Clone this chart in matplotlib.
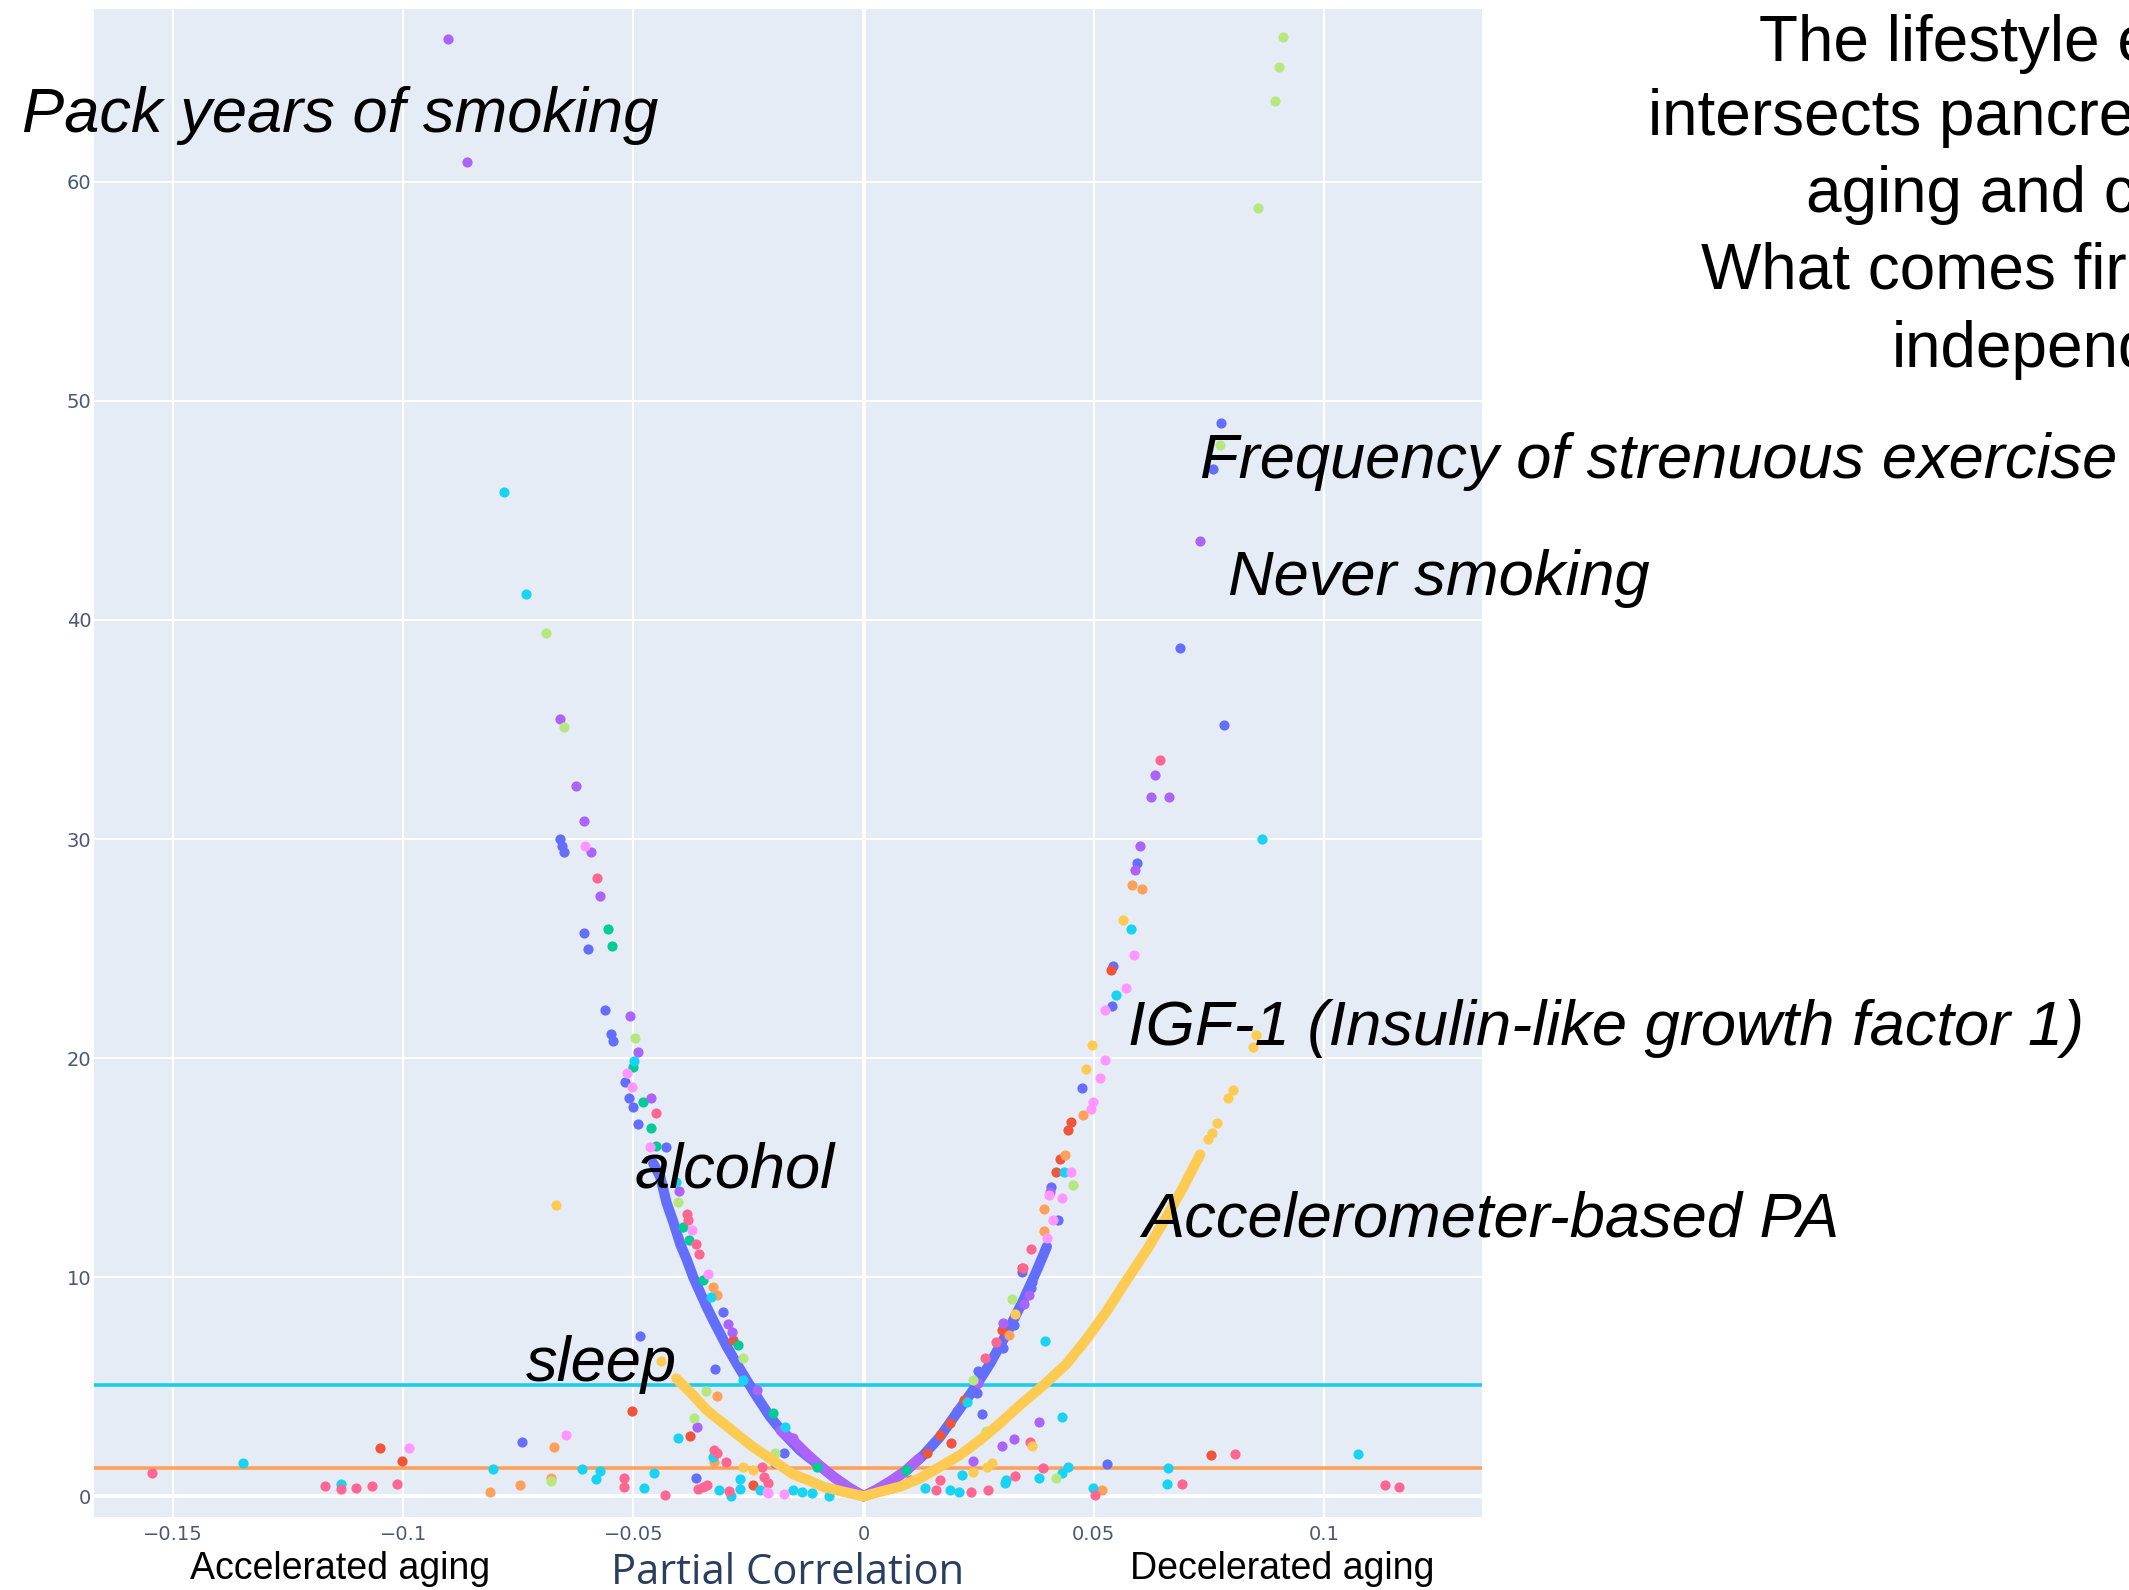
import matplotlib
matplotlib.use("Agg")
import matplotlib.pyplot as plt

# Partial correlation with aging (x) against -log10(p) (y)

# dense ridge of the main exposure set (drawn as a continuous band)
main_ridge_r = [-0.0457, -0.0442, -0.0428, -0.0413, -0.0398, -0.0384, -0.0370, -0.0355,
                -0.0341, -0.0327, -0.0312, -0.0297, -0.0276, -0.0254, -0.0232, -0.0203,
                -0.0174, -0.0138, -0.0102, -0.0066, -0.0030, 0.0,
                0.0028, 0.0065, 0.0094, 0.0130, 0.0166, 0.0202, 0.0238, 0.0275,
                0.0311, 0.0347, 0.0376, 0.0398]
main_ridge_y = [15.2, 14.6, 13.4, 12.5, 11.5, 10.8, 10.0, 9.3,
                8.65, 8.05, 7.44, 6.83, 6.07, 5.3, 4.55, 3.63,
                2.88, 2.1, 1.5, 0.9, 0.37, 0.0,
                0.29, 0.74, 1.2, 1.88, 2.72, 3.79, 4.85, 6.07,
                7.44, 8.96, 10.3, 11.4]

# inner ridge close to zero correlation
inner_ridge_r = [-0.0180, -0.0153, -0.0124, -0.0095, -0.0066, -0.0035, 0.0,
                 0.0030, 0.0060, 0.0090, 0.0119]
inner_ridge_y = [3.0, 2.55, 1.95, 1.4, 0.9, 0.43, 0.0,
                 0.33, 0.72, 1.15, 1.7]

# accelerometer / sleep ridge
pa_ridge_r = [-0.0407, -0.0374, -0.0341, -0.0291, -0.0240, -0.0208, -0.0153, -0.0125,
              -0.0088, -0.0042, 0.0,
              0.0036, 0.0079, 0.0122, 0.0166, 0.0209, 0.0253, 0.0296, 0.0340,
              0.0387, 0.0441, 0.0485, 0.0528, 0.0571, 0.0615, 0.0658, 0.0694, 0.0731]
pa_ridge_y = [5.38, 4.7, 3.94, 3.1, 2.25, 1.8, 1.0, 0.78,
              0.44, 0.2, 0.0,
              0.21, 0.44, 0.82, 1.35, 1.88, 2.57, 3.33, 4.17,
              5.0, 6.05, 7.2, 8.45, 9.85, 11.24, 12.76, 14.1, 15.6]

# individual exposures, grouped by colour
blue_r = [0.0776, 0.0758, 0.0688, 0.0783, -0.0659, -0.0655, -0.0651, -0.0607, -0.0599,
          -0.0562, -0.0549, -0.0544, -0.0518, -0.0509, -0.0500, -0.0491, -0.0430,
          0.0593, 0.0541, 0.0540, 0.0474, 0.0407, 0.0423, 0.0344, 0.0366, 0.0364,
          0.0327, 0.0302, 0.0249, 0.0246, 0.0202, 0.0258, 0.0529, -0.0485, -0.0323,
          -0.0363, -0.0742, -0.0193, -0.0172, -0.0306]
blue_y = [49.0, 46.9, 38.7, 35.2, 30.0, 29.7, 29.4, 25.7, 25.0,
          22.2, 21.1, 20.8, 18.9, 18.2, 17.75, 17.0, 15.95,
          28.9, 24.2, 22.4, 18.65, 14.1, 12.6, 10.25, 9.8, 9.5,
          7.8, 6.75, 5.7, 4.7, 3.9, 3.75, 1.46, 7.32, 5.8,
          0.85, 2.49, 1.5, 1.99, 8.43]

purple_r = [-0.0902, -0.0862, -0.0659, -0.0624, -0.0608, -0.0593, -0.0572, -0.0508,
            -0.0489, -0.0461, -0.0400, -0.0294, -0.0286, -0.0232, -0.0153, -0.0362,
            0.0731, 0.0633, 0.0624, 0.0663, 0.0601, 0.0590, 0.0405, 0.0359, 0.0349,
            0.0302, 0.0248, 0.0381, 0.0327, 0.0301, 0.0238]
purple_y = [66.5, 60.9, 35.5, 32.4, 30.8, 29.4, 27.4, 21.9,
            20.3, 18.2, 13.92, 7.85, 7.51, 4.85, 2.65, 3.18,
            43.6, 32.9, 31.9, 31.9, 29.7, 28.6, 13.9, 9.2, 8.8,
            7.9, 5.15, 3.4, 2.6, 2.3, 1.6]

lightgreen_r = [0.0912, 0.0903, 0.0893, 0.0857, 0.0774, -0.0690, -0.0651, -0.0497,
                -0.0404, -0.0261, -0.0192, -0.0368, -0.0343, -0.0678, 0.0454, 0.0322,
                0.0238, 0.0266, 0.0418]
lightgreen_y = [66.6, 65.25, 63.7, 58.8, 48.0, 39.4, 35.1, 20.9,
                13.43, 6.3, 1.96, 3.59, 4.8, 0.72, 14.2, 9.0,
                5.3, 3.0, 0.82]

green_r = [-0.0556, -0.0547, -0.0500, -0.0479, -0.0462, -0.0450, -0.0392, -0.0379,
           -0.0349, -0.0272, -0.0196, -0.0102, 0.0091]
green_y = [25.9, 25.1, 19.6, 18.0, 16.8, 16.0, 12.3, 11.7,
           9.87, 6.9, 3.79, 1.35, 1.2]

cyan_r = [-0.0780, -0.0733, 0.0865, -0.0499, -0.0407, -0.0332, -0.0261, -0.0171,
          0.0580, 0.0548, 0.0435, 0.0393, 0.0224, 0.0430, -0.1347, -0.1135,
          -0.0806, -0.0611, -0.0573, -0.0581, -0.0477, -0.0456, -0.0404, -0.0328,
          -0.0314, -0.0289, -0.0268, -0.0268, -0.0225, -0.0154, -0.0133, -0.0112,
          -0.0075, 0.0133, 0.0187, 0.0208, 0.0213, 0.0310, 0.0308, 0.0382,
          0.0430, 0.0443, 0.0662, 0.0659, 0.0499, 0.1073]
cyan_y = [45.85, 41.2, 30.0, 19.85, 14.36, 9.1, 5.3, 3.18,
          25.9, 22.9, 14.8, 7.1, 4.3, 3.6, 1.53, 0.55,
          1.26, 1.26, 1.15, 0.78, 0.36, 1.08, 2.66, 1.81,
          0.29, 0.0, 0.33, 0.78, 0.29, 0.29, 0.18, 0.14,
          0.0, 0.36, 0.29, 0.21, 0.97, 0.75, 0.6, 0.82,
          1.05, 1.35, 1.3, 0.56, 0.36, 1.93]

pink_r = [-0.0580, -0.0452, -0.0384, -0.0381, -0.0364, -0.0357, 0.0643, 0.0363,
          -0.1545, -0.1169, -0.1135, -0.1102, -0.1067, -0.1013, -0.0520, -0.0520,
          -0.0431, -0.0359, -0.0349, -0.0340, -0.0324, -0.0318, -0.0299, -0.0293,
          -0.0220, -0.0216, -0.0208, 0.0100, 0.0158, 0.0166, 0.0233, 0.0270,
          0.0361, 0.0389, 0.0329, 0.0692, 0.0502, 0.0807, 0.1133, 0.1163,
          0.0288, 0.0264, 0.0346]
pink_y = [28.2, 17.5, 12.9, 12.6, 11.5, 11.05, 33.6, 11.3,
          1.08, 0.48, 0.33, 0.36, 0.47, 0.58, 0.85, 0.42,
          0.06, 0.32, 0.44, 0.52, 2.11, 1.96, 1.58, 0.26,
          1.35, 0.9, 0.59, 0.74, 0.29, 0.74, 0.21, 0.29,
          2.5, 1.28, 0.93, 0.56, 0.06, 1.93, 0.52, 0.41,
          7.06, 6.3, 10.4]

red_r = [-0.1051, -0.1003, -0.0504, -0.0378, -0.0241, -0.0283, 0.0537, 0.0450,
         0.0445, 0.0427, 0.0417, 0.0345, 0.0301, 0.0167, 0.0189, 0.0137,
         0.0754, 0.0217, 0.0188]
red_y = [2.22, 1.6, 3.89, 2.75, 0.52, 7.13, 24.0, 17.1,
         16.7, 15.4, 14.8, 10.4, 7.6, 2.8, 2.45, 2.0,
         1.9, 4.4, 3.33]

orange_r = [0.0582, 0.0605, 0.0476, 0.0437, 0.0392, 0.0392, 0.0316, -0.0328,
            -0.0319, -0.0318, -0.0324, -0.0812, -0.0747, -0.0672, -0.0678, 0.0518]
orange_y = [27.9, 27.7, 17.4, 15.6, 13.1, 12.1, 7.36, 9.57,
            9.19, 4.58, 1.58, 0.18, 0.5, 2.25, 0.85, 0.29]

lightpink_r = [-0.0605, -0.0513, -0.0504, -0.0464, -0.0372, -0.0337, -0.0987, -0.0646,
               -0.0210, -0.0173, -0.0207, 0.0587, 0.0569, 0.0524, 0.0525, 0.0513,
               0.0499, 0.0494, 0.0451, 0.0430, 0.0412, 0.0399, 0.0403]
lightpink_y = [29.7, 19.3, 18.7, 15.95, 12.15, 10.15, 2.22, 2.78,
               0.18, 0.09, 0.14, 24.7, 23.2, 22.2, 19.9, 19.1,
               18.0, 17.7, 14.8, 13.6, 12.6, 11.8, 13.75]

yellow_r = [-0.0669, -0.0441, 0.0564, 0.0497, 0.0484, 0.0329, 0.0366, -0.0262,
            -0.0241, 0.0237, 0.0267, 0.0278, 0.0749, 0.0756, 0.0767, 0.0792,
            0.0803, 0.0846, 0.0853]
yellow_y = [13.3, 6.19, 26.3, 20.6, 19.5, 8.3, 2.3, 1.35,
            1.2, 1.12, 1.35, 1.5, 16.3, 16.6, 17.05, 18.2,
            18.55, 20.5, 21.05]

# significance thresholds (-log10 p)
threshold_strict = 5.08
threshold_nominal = 1.301

x_ticks = [-0.15, -0.1, -0.05, 0, 0.05, 0.1]
x_tick_labels = ["\u22120.15", "\u22120.1", "\u22120.05", "0", "0.05", "0.1"]
y_ticks = [0, 10, 20, 30, 40, 50, 60]
y_tick_labels = ["0", "10", "20", "30", "40", "50", "60"]

# ---- figure ----
W, H = 2129, 1590
fig = plt.figure(figsize=(W / 100, H / 100), dpi=100)
fig.patch.set_facecolor("white")


def fx(px):
    return px / W


def fy(py):
    return 1 - py / H


ax = fig.add_axes([fx(94), fy(1516.7), fx(1481.7) - fx(94), fy(9.3) - fy(1516.7)])
ax.set_facecolor("#E5ECF6")
ax.set_xlim(-0.16716, 0.13425)
ax.set_ylim(-0.93, 67.87)
for s in ax.spines.values():
    s.set_visible(False)

ax.set_xticks(x_ticks)
ax.set_xticklabels(x_tick_labels)
ax.set_yticks(y_ticks)
ax.set_yticklabels(y_tick_labels)
ax.tick_params(axis="both", length=0, labelsize=14, labelcolor="#4a5878")
ax.tick_params(axis="x", pad=6)
ax.tick_params(axis="y", pad=2)
for lab in ax.get_xticklabels() + ax.get_yticklabels():
    lab.set_fontfamily("DejaVu Sans")
ax.grid(True, color="white", lw=1.4, zorder=0)
ax.set_axisbelow(True)
ax.axhline(0, color="white", lw=2.8, zorder=0.5)
ax.axvline(0, color="white", lw=2.8, zorder=0.5)

ax.axhline(threshold_strict, color="#1DCBEF", lw=2.6, zorder=1)
ax.axhline(threshold_nominal, color="#FFA15A", lw=2.6, zorder=1)

ms = 54
band_lw = 7.4
ax.plot(main_ridge_r, main_ridge_y, color="#636EFA", lw=band_lw,
        solid_capstyle="round", solid_joinstyle="round", zorder=2)
ax.plot(inner_ridge_r, inner_ridge_y, color="#AB63FA", lw=band_lw,
        solid_capstyle="round", solid_joinstyle="round", zorder=2.2)

groups = [
    (blue_r, blue_y, "#636EFA"),
    (red_r, red_y, "#EF553B"),
    (green_r, green_y, "#00CC96"),
    (purple_r, purple_y, "#AB63FA"),
    (orange_r, orange_y, "#FFA15A"),
    (cyan_r, cyan_y, "#19D3F3"),
    (pink_r, pink_y, "#FF6692"),
    (lightgreen_r, lightgreen_y, "#B6E880"),
    (lightpink_r, lightpink_y, "#FF97FF"),
    (yellow_r, yellow_y, "#FECB52"),
]
for r, y, c in groups:
    ax.scatter(r, y, s=ms, color=c, linewidths=0, zorder=3)

ax.plot(pa_ridge_r, pa_ridge_y, color="#FECB52", lw=band_lw,
        solid_capstyle="round", solid_joinstyle="round", zorder=3.5)

# axis title
fig.text(fx(787.9), fy(1584), "Partial Correlation", ha="center", va="baseline",
         fontsize=30, color="#2a3f5f", fontfamily="Open Sans")

# direction labels
fig.text(fx(190), fy(1579), "Accelerated aging", ha="left", va="baseline",
         fontsize=27, color="black", fontfamily="Liberation Sans")
fig.text(fx(1129.7), fy(1579), "Decelerated aging", ha="left", va="baseline",
         fontsize=27, color="black", fontfamily="Liberation Sans")

# exposure call-outs
notes = [
    (21.7, 131.7, "Pack years of smoking"),
    (1200, 478, "Frequency of strenuous exercise"),
    (1228, 595, "Never smoking"),
    (1128, 1045, "IGF-1 (Insulin-like growth factor 1)"),
    (1141.7, 1236.7, "Accelerometer-based PA"),
    (635, 1188, "alcohol"),
    (526, 1381, "sleep"),
]
for px, py, txt in notes:
    fig.text(fx(px), fy(py), txt, ha="left", va="baseline", fontsize=45.5,
             style="italic", color="black", fontfamily="Liberation Sans", zorder=10)

# heading block at the top right
heading = [
    (1758.6, 61, "The lifestyle e"),
    (1647.9, 135, "intersects pancre"),
    (1805.9, 211.7, "aging and c"),
    (1701.4, 288.3, "What comes fir"),
    (1891.6, 366.7, "independ"),
]
for px, py, txt in heading:
    fig.text(fx(px), fy(py), txt, ha="left", va="baseline", fontsize=46,
             color="black", fontfamily="Liberation Sans")

fig.savefig("out.png", dpi=100)
